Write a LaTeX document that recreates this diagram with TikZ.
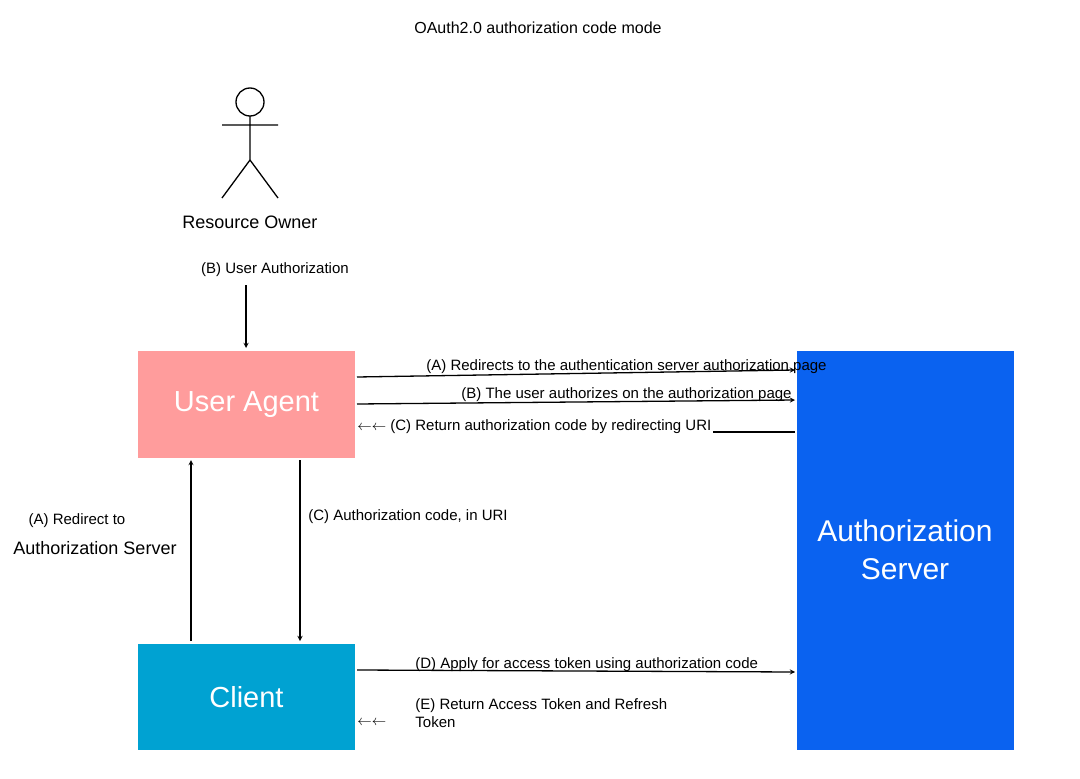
\documentclass[tikz,border=0pt]{standalone}
\usepackage{fontspec}
\setmainfont{Liberation Sans}
\usetikzlibrary{positioning}
\definecolor{agentpink}{HTML}{FF9C9C}
\definecolor{serverblue}{HTML}{0A62F0}
\definecolor{clientcyan}{HTML}{00A2D2}
\begin{document}
\begin{tikzpicture}[x=1pt,y=-1pt,thick,
    box/.style={draw=none,inner sep=0pt,text=white,font=\fontsize{29}{32}\selectfont},
    lbl/.style={font=\fontsize{15}{18}\selectfont,inner sep=1pt},
    big lbl/.style={font=\fontsize{18}{21}\selectfont,inner sep=1pt},
    arr/.style={->,>=stealth,line width=1.3pt}]
    \useasboundingbox (0,0) rectangle (1080,779);
    \node[font=\fontsize{16}{19}\selectfont] (title) at (538,28) {OAuth2.0 authorization code mode};

    % resource owner
    \draw[line width=1.3pt] (250,102) circle (14);
    \draw[line width=1.3pt] (250,116) -- (250,160) (222,125) -- (278,125)
        (222,198) -- (250,160) -- (278,198);
    \node[big lbl] (owner) at (250,222) {Resource Owner};
    \node[lbl] (userauth) at (275,270) {(B) User Authorization};
    \coordinate (ownertop) at (246,285);

    % boxes
    \fill[agentpink] (138,351) rectangle (355,458);
    \node[box] (agent) at (246.5,404.5) {User Agent};
    \fill[serverblue] (797,351) rectangle (1014,750);
    \node[box,align=center,font=\fontsize{30}{38}\selectfont] (server) at (905,550) {Authorization\\Server};
    \fill[clientcyan] (138,644) rectangle (355,750);
    \node[box] (client) at (246.5,697) {Client};

    % named anchor points
    \coordinate (ua a) at (357,377);   \coordinate (as a) at (795,370);
    \coordinate (ua b) at (357,404);   \coordinate (as b) at (795,400);
    \coordinate (as c) at (795,432);
    \coordinate (ua bl) at (191,460);  \coordinate (cl tl) at (191,641);
    \coordinate (ua br) at (300,460);  \coordinate (cl tr) at (300,641);
    \coordinate (cl d) at (357,670);   \coordinate (as d) at (795,672);

    \draw[arr] (ownertop) -- (246,348);
    \draw[arr] (ua a) -- (as a);
    \node[lbl,anchor=west] (la) at (425,367) {(A) Redirects to the authentication server authorization page};
    \draw[arr] (ua b) -- (as b);
    \node[lbl,anchor=west] (lb) at (460,395) {(B) The user authorizes on the authorization page};
    \node[lbl,anchor=west] (lc) at (356,427) {$\leftarrow\leftarrow$ (C) Return authorization code by redirecting URI};
    \draw[line width=1.3pt] (as c) -- (lc.east |- as c);

    \draw[arr] (cl tl) -- (ua bl);
    \node[lbl] (lra) at (77,521) {(A) Redirect to};
    \node[big lbl] (lrb) at (95,548) {Authorization Server};
    \draw[arr] (ua br) -- (cl tr);
    \node[lbl,anchor=west] (lcode) at (307,517) {(C) Authorization code, in URI};

    \draw[arr] (cl d) -- (as d);
    \node[lbl,anchor=west] (ld) at (414,665) {(D) Apply for access token using authorization code};
    \node[lbl,anchor=west] (le0) at (356,723) {$\leftarrow\leftarrow$};
    \node[lbl,anchor=north west,align=left] (le) at (414,697) {(E) Return Access Token and Refresh\\Token};
\end{tikzpicture}
\end{document}
